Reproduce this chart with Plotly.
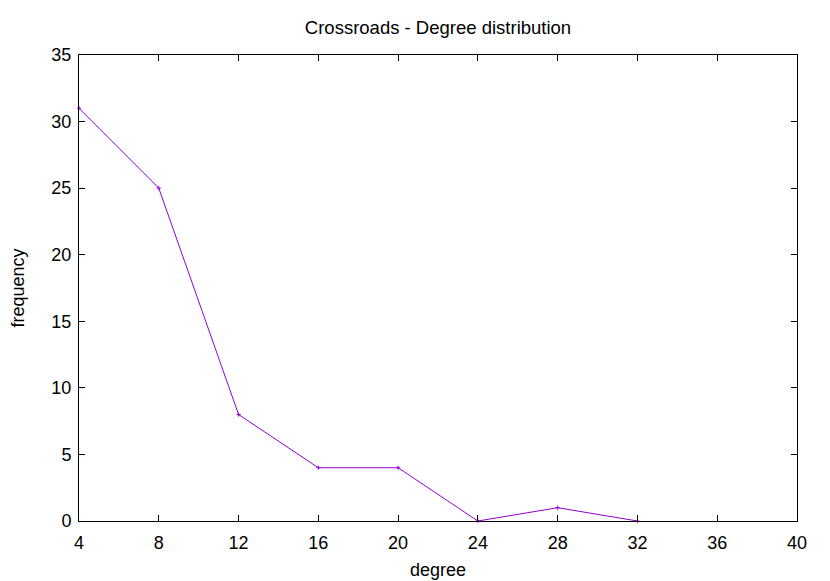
import plotly.graph_objects as go

degree = [4, 8, 12, 16, 20, 24, 28, 32]
frequency = [31, 25, 8, 4, 4, 0, 1, 0]
x_ticks = [4, 8, 12, 16, 20, 24, 28, 32, 36, 40]
y_ticks = [0, 5, 10, 15, 20, 25, 30, 35]

W, H = 822, 573  # page body has an 8px margin

fig = go.Figure()
fig.add_trace(go.Scatter(
    x=degree, y=frequency, mode="lines+markers",
    line=dict(color="#9400d3", width=1),
    marker=dict(symbol="cross-thin", size=3, line=dict(color="#9400d3", width=1)),
    showlegend=False, cliponaxis=False,
))

font = dict(family="Liberation Sans, Arial, sans-serif", size=18, color="black")
axis_common = dict(
    showline=True, linecolor="black", linewidth=1, mirror="allticks",
    ticks="inside", ticklen=6, tickcolor="black", tickwidth=1,
    showgrid=False, zeroline=False, tickfont=font, automargin=False,
)
fig.update_layout(
    width=W, height=H,
    margin=dict(l=71, r=33, t=47, b=60),
    paper_bgcolor="white", plot_bgcolor="white",
    title=dict(text="Crossroads - Degree distribution", x=(71 + 789) / 2 / W, xanchor="center",
               y=1 - 20 / H, yanchor="middle", font=dict(family=font["family"], size=18.5, color="black")),
    font=font,
)
fig.update_xaxes(range=[4, 40], tickvals=x_ticks, ticklabelstandoff=5,
                 title=dict(text="degree", font=font, standoff=11), **axis_common)
fig.update_yaxes(range=[0, 35], tickvals=y_ticks, ticklabelstandoff=3,
                 title=dict(text="frequency", font=font, standoff=26), **axis_common)

fig.write_html("out.html")
